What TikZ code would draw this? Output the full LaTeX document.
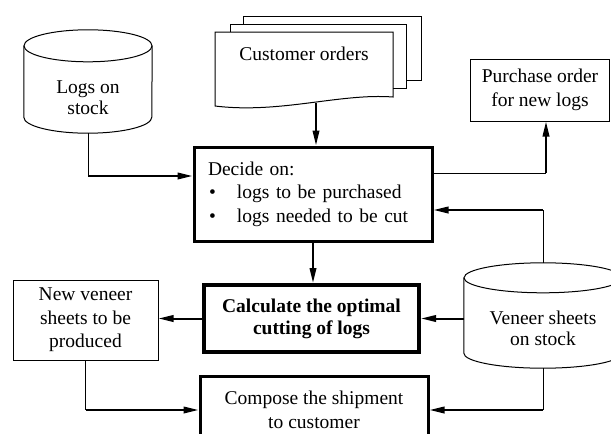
\documentclass[tikz,border=0pt]{standalone}
\usepackage{fontspec}
\setmainfont{Liberation Serif}
\usetikzlibrary{arrows.meta}
\begin{document}
\begin{tikzpicture}[x=1pt,y=-1pt,
  every node/.style={font=\fontsize{19.5}{23.5}\selectfont, inner sep=0pt, align=center},
  thinbox/.style={draw, line width=1pt},
  lnthin/.style={line width=1pt},
  lnarr/.style={line width=2pt, -{Triangle[length=15pt,width=6.5pt]}},
]
\useasboundingbox (0,0) rectangle (611,434);
\clip (0,0) rectangle (611,434);

% Logs on stock (cylinder)
\node (logs) [minimum width=128pt, minimum height=71pt] at (88,97.5) {Logs on\\[-2pt]stock};
\draw[lnthin] ([yshift=16pt]logs.north west) -- ([yshift=16pt]logs.south west)
  arc[start angle=180, end angle=360, x radius=64pt, y radius=16pt] -- ([yshift=16pt]logs.north east);
\draw[lnthin] ([yshift=16pt]logs.north) ellipse[x radius=64pt, y radius=16pt];

% Customer orders (multi-document)
\draw[lnthin] (243,24) -- (243,16) -- (421,16) -- (421,80) -- (406,80);
\draw[lnthin] (230,32) -- (230,24) -- (406,24) -- (406,88) -- (393,88);
\draw[lnthin] (215,32) -- (393,32) -- (393,97) .. controls (340,93) and (280,114) .. (215,106) -- cycle;
\node (cust) at (304,53.5) {Customer orders};
\coordinate (custb) at (316,103);

% Decide
\node (decide) [draw, line width=3pt, minimum height=94pt, text width=210pt, inner xsep=14pt, align=left] at (313,194)
  {Decide on:\\\makebox[29pt][l]{\hspace{1pt}\textbullet}logs to be purchased\\\makebox[29pt][l]{\hspace{1pt}\textbullet}logs needed to be cut};

% Purchase order
\node (purch) [thinbox, minimum width=139pt, minimum height=62pt] at (540,90) {Purchase order\\for new logs};

% Calculate
\node (calc) [draw, line width=4pt, minimum width=215pt, minimum height=67pt,
  font=\fontsize{19.5}{22}\selectfont\bfseries] at (311.5,318.5) {Calculate the optimal\\cutting of logs};

% New veneer sheets
\node (newv) [thinbox, minimum width=145pt, minimum height=80pt] at (85.5,320) {New veneer\\sheets to be\\produced};

% Veneer sheets on stock (cylinder)
\node (vene) [minimum width=158pt, minimum height=75pt] at (543,330.5) {\raisebox{3pt}{\begin{tabular}{@{}c@{}}Veneer sheets\\[-3pt]on stock\end{tabular}}};
\draw[lnthin] ([yshift=15pt]vene.north west) -- ([yshift=15pt]vene.south west)
  arc[start angle=180, end angle=360, x radius=79pt, y radius=15pt] -- ([yshift=15pt]vene.north east);
\draw[lnthin] ([yshift=15pt]vene.north) ellipse[x radius=79pt, y radius=15pt];

% Compose
\node (comp) [draw, line width=3pt, minimum width=228pt, minimum height=68pt] at (314,410) {Compose the shipment\\to customer};

% Connectors
\coordinate (c1) at (logs.south |- 0,176);
\draw[lnthin] (logs.south) -- (c1);
\draw[lnarr] (c1) -- (c1 -| decide.west);

\draw[lnarr] (custb) -- (custb |- decide.north);

\coordinate (c2) at (546,173);
\draw[lnthin] (c2 -| decide.east) -- (c2);
\draw[lnarr] (c2) -- (c2 |- purch.south);

\coordinate (c3) at (vene.north |- 0,210);
\draw[lnthin] ([yshift=30pt]vene.north) -- (c3);
\draw[lnarr] (c3) -- (c3 -| decide.east);

\draw[lnarr] (decide.south) -- (decide.south |- calc.north);
\draw[lnarr] (calc.west) -- (calc.west -| newv.east);
\draw[lnarr] (vene.west |- calc.east) -- (calc.east);

\coordinate (c4) at (vene.south |- comp.east);
\draw[lnthin] (vene.south) -- (c4);
\draw[lnarr] (c4) -- (comp.east);

\coordinate (c5) at (newv.south |- comp.west);
\draw[lnthin] (newv.south) -- (c5);
\draw[lnarr] (c5) -- (comp.west);
\end{tikzpicture}
\end{document}
